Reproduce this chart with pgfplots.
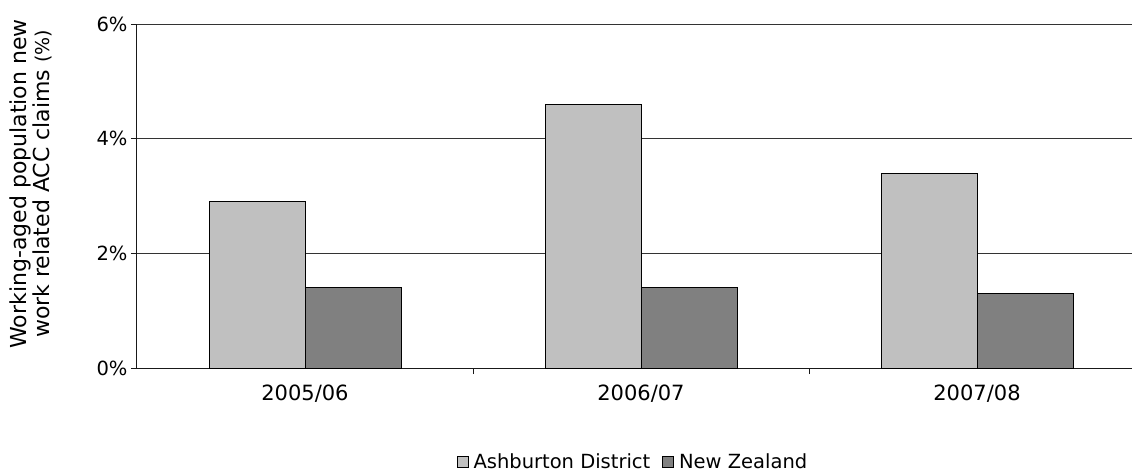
\documentclass[border=0pt]{standalone}
\usepackage{pgfplots}
\pgfplotsset{compat=1.18}
\usepackage{fontspec}
\setmainfont{DejaVu Sans}
\definecolor{lightbar}{HTML}{C0C0C0}
\definecolor{darkbar}{HTML}{808080}
\begin{document}
\begin{tikzpicture}[x=1pt,y=1pt]
\path[use as bounding box] (-137,-107) rectangle (995,368);
\begin{axis}[
  at={(0,0)}, anchor=south west,
  scale only axis, width=995pt, height=344pt,
  xmin=-0.5, xmax=2.4613, ymin=0, ymax=6,
  axis x line*=bottom, axis y line*=left,
  axis line style={black!90, line width=1pt},
  ybar=0pt, bar width=96pt,
  ytick={0,2,4,6}, yticklabels={0\%,2\%,4\%,6\%},
  xtick={0.5,1.5}, xticklabels={},
  extra x ticks={0,1,2}, extra x tick labels={2005/06,2006/07,2007/08},
  extra x tick style={major tick length=0pt, xticklabel style={yshift=-13pt, font=\fontsize{21}{25}\selectfont}},
  tick align=outside, major tick length=6pt,
  tick style={black!90, line width=1pt},
  ymajorgrids, grid style={black!80, line width=1pt},
  tick label style={font=\fontsize{19.5}{23}\selectfont},
  ylabel={Working-aged population new\\work related ACC claims {\fontsize{19}{23}\selectfont(\%)}},
  ylabel style={align=center, font=\fontsize{22}{23}\selectfont, at={(axis description cs:-0.1065,0.535)}, anchor=center},
  legend style={at={(axis description cs:0.4985,-0.272)}, anchor=center, draw=none, fill=none,
    legend columns=2, font=\fontsize{19.5}{23}\selectfont,
    /tikz/every odd column/.append style={column sep=3pt},
    /tikz/every even column/.append style={column sep=10pt}},
  mylegend/.style={legend image code/.code={\draw[##1, line width=0.8pt] (0pt,-5.5pt) rectangle (11pt,5.5pt);}},
]
\addplot[fill=lightbar, draw=black, line width=1pt, mylegend] coordinates {(0,2.9) (1,4.6) (2,3.4)};
\addplot[fill=darkbar, draw=black, line width=1pt, mylegend] coordinates {(0,1.4) (1,1.4) (2,1.3)};
\legend{Ashburton District, New Zealand}
\end{axis}
\end{tikzpicture}
\end{document}
